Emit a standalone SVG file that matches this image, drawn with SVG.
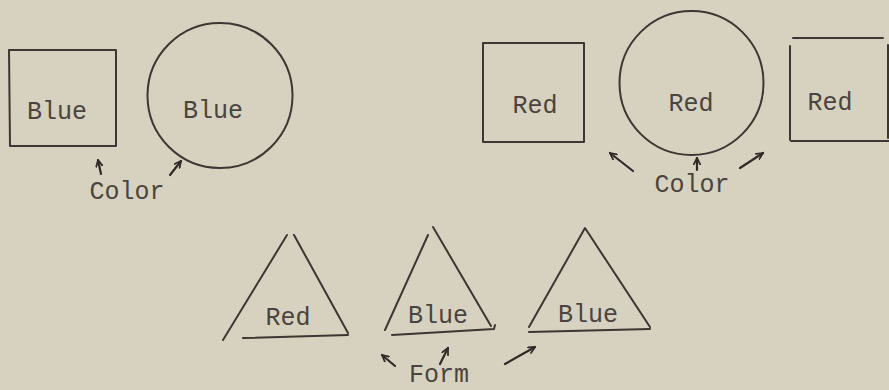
<svg xmlns="http://www.w3.org/2000/svg" width="889" height="390" viewBox="0 0 889 390">
<style>
.bg{fill:#d6d2bf}
.sh{fill:none;stroke:#3d3632;stroke-width:2;stroke-linecap:round;stroke-linejoin:round}
.t{font-family:"Liberation Mono","Courier New",monospace;font-size:25px;fill:#4a4440;text-anchor:middle}
.ar{fill:none;stroke:#2f2a27;stroke-width:2.2;stroke-linecap:round}
</style>
<defs>
<marker id="ah" viewBox="0 0 10 10" refX="9" refY="5" markerWidth="8" markerHeight="8" markerUnits="userSpaceOnUse" orient="auto">
<path d="M1,1 L9,5 L1,9" fill="none" stroke="#2f2a27" stroke-width="2.2" stroke-linecap="round" stroke-linejoin="round"/>
</marker>
</defs>
<rect class="bg" x="0" y="0" width="889" height="390"/>

<g id="blue-square">
<path class="sh" d="M9,50 L116,50 L116,146 L10,146 Z"/>
<text class="t" x="57" y="119">Blue</text>
</g>
<g id="blue-circle">
<circle class="sh" cx="220" cy="95.5" r="72.5"/>
<text class="t" x="213" y="118">Blue</text>
</g>
<text id="color-left" class="t" x="127" y="199">Color</text>

<g id="red-square-1">
<path class="sh" d="M483,43 L584,43 L584,142 L483,142 Z"/>
<text class="t" x="535" y="113">Red</text>
</g>
<g id="red-circle">
<circle class="sh" cx="691.5" cy="83" r="72"/>
<text class="t" x="691" y="111">Red</text>
</g>
<g id="red-square-2">
<path class="sh" d="M793,38 L883,38"/>
<path class="sh" d="M790,46 L790,140"/>
<path class="sh" d="M791,141 L889,141"/>
<path class="sh" d="M888,45 L888,138"/>
<text class="t" x="830" y="110">Red</text>
</g>
<text id="color-right" class="t" x="692" y="192">Color</text>

<g id="red-triangle">
<path class="sh" d="M223,340 L287,235"/>
<path class="sh" d="M294,235 L348,333"/>
<path class="sh" d="M243,338 L348,335"/>
<text class="t" x="288" y="325">Red</text>
</g>
<g id="blue-triangle-1">
<path class="sh" d="M385,330 L428,235"/>
<path class="sh" d="M433,227 L491,326"/>
<path class="sh" d="M392,335 L494,329 L495,325"/>
<text class="t" x="438" y="323">Blue</text>
</g>
<g id="blue-triangle-2">
<path class="sh" d="M529,327 L585,228 L650,327"/>
<path class="sh" d="M529,332 L650,329"/>
<text class="t" x="588" y="322">Blue</text>
</g>
<text id="form" class="t" x="439" y="382">Form</text>

<g id="connectors">
<path class="ar" d="M101,174 L98,160" marker-end="url(#ah)"/>
<path class="ar" d="M170,175 L181,161" marker-end="url(#ah)"/>
<path class="ar" d="M633,171 L610,153" marker-end="url(#ah)"/>
<path class="ar" d="M697,170 L697,158" marker-end="url(#ah)"/>
<path class="ar" d="M740,168 L763,153" marker-end="url(#ah)"/>
<path class="ar" d="M395,366 L382,355" marker-end="url(#ah)"/>
<path class="ar" d="M440,364 L448,348" marker-end="url(#ah)"/>
<path class="ar" d="M505,364 L535,347" marker-end="url(#ah)"/>
</g>
</svg>
